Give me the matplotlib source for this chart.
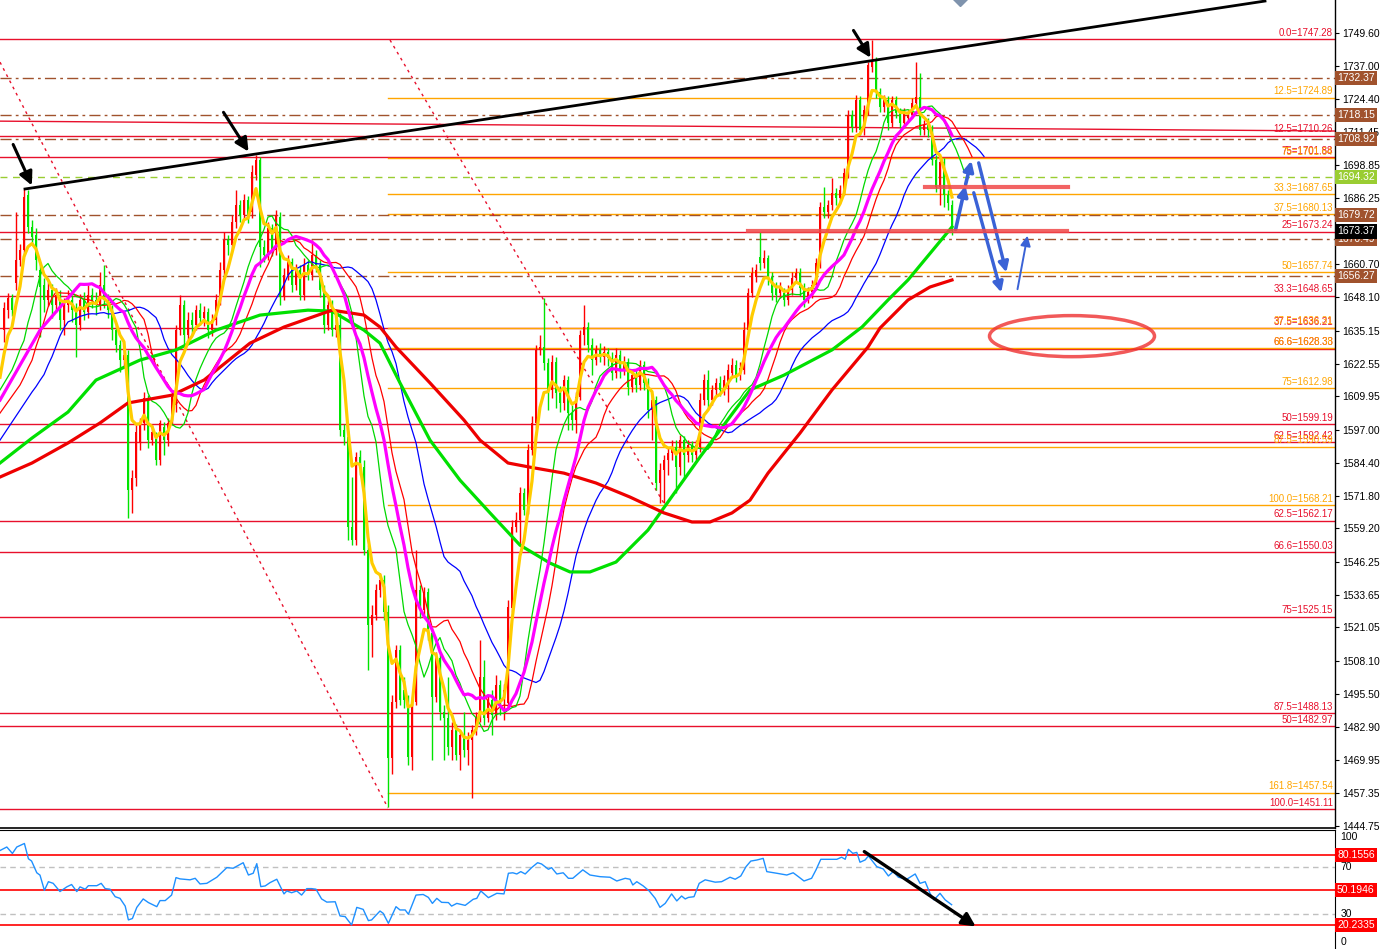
import matplotlib
matplotlib.use("Agg")
import matplotlib.pyplot as plt
from matplotlib.patches import Ellipse
from matplotlib.transforms import blended_transform_factory
import numpy as np
import pandas as pd

plt.rcParams['font.family'] = ['Liberation Sans', 'DejaVu Sans']

# ---- candles (one bar every 4 px in the original) ----
opens = [
    1635.4, 1643.1, 1647.8, 1653.5, 1662.4, 1666.2, 1687.4, 1675.1, 1672.0, 1658.5,
    1652.8, 1647.0, 1650.8, 1645.1, 1648.9, 1639.3, 1645.1, 1647.0, 1643.1, 1637.4,
    1647.0, 1642.4, 1648.9, 1647.0, 1645.1, 1652.8, 1647.0, 1643.1, 1635.4, 1629.7,
    1623.9, 1625.8, 1573.9, 1578.5, 1592.0, 1599.7, 1608.5, 1593.1, 1593.9, 1585.4,
    1598.1, 1593.1, 1600.8, 1606.6, 1635.4, 1645.1, 1633.5, 1639.3, 1637.4, 1643.1,
    1640.1, 1642.4, 1635.4, 1639.3, 1647.0, 1658.5, 1670.1, 1668.1, 1677.0, 1683.5,
    1679.7, 1685.5, 1680.8, 1695.1, 1700.8, 1667.4, 1664.3, 1674.7, 1666.2, 1678.9,
    1648.1, 1656.6, 1661.6, 1652.8, 1658.5, 1648.9, 1660.5, 1656.6, 1664.3, 1660.5,
    1650.8, 1637.4, 1645.1, 1635.4, 1637.4, 1597.0, 1594.3, 1559.7, 1554.7, 1586.6,
    1582.7, 1550.8, 1522.0, 1525.8, 1535.4, 1539.3, 1527.0, 1470.8, 1492.3, 1512.3,
    1497.0, 1493.1, 1471.2, 1492.3, 1535.4, 1527.7, 1534.7, 1518.9, 1494.3, 1509.3,
    1488.5, 1486.2, 1475.0, 1481.6, 1472.0, 1479.6, 1473.9, 1477.7, 1481.6, 1486.6,
    1502.0, 1486.2, 1493.1, 1487.3, 1498.9, 1493.1, 1492.0, 1528.5, 1559.7, 1562.4,
    1572.7, 1566.2, 1589.3, 1599.7, 1627.8, 1628.9, 1622.8, 1612.4, 1623.1, 1611.2,
    1607.4, 1616.2, 1603.5, 1600.8, 1609.7, 1633.5, 1636.6, 1629.7, 1623.9, 1627.8,
    1625.1, 1627.0, 1624.7, 1618.9, 1625.8, 1620.1, 1623.1, 1613.5, 1618.1, 1614.3,
    1622.0, 1615.1, 1604.7, 1608.5, 1576.6, 1581.6, 1585.4, 1588.1, 1590.4, 1582.7,
    1593.1, 1587.4, 1591.2, 1587.4, 1590.4, 1608.5, 1616.2, 1608.5, 1612.4, 1615.1,
    1612.4, 1615.1, 1618.9, 1622.0, 1618.1, 1620.1, 1635.4, 1649.7, 1655.8, 1663.5,
    1661.2, 1663.1, 1655.8, 1651.6, 1649.7, 1649.7, 1647.0, 1650.8, 1655.5, 1657.4,
    1651.6, 1647.0, 1650.1, 1652.8, 1661.2, 1682.8, 1680.8, 1683.5, 1688.2, 1686.2,
    1689.3, 1695.8, 1718.2, 1713.5, 1723.9, 1712.4, 1720.1, 1736.6, 1739.3, 1727.0,
    1721.2, 1723.9, 1715.1, 1723.9, 1718.9, 1715.1, 1717.0, 1718.2, 1722.8, 1725.1,
    1712.4, 1714.3, 1712.4, 1700.8, 1690.5, 1700.1, 1687.4, 1683.5]
closes = [
    1643.9, 1647.8, 1643.1, 1662.4, 1666.2, 1686.6, 1675.1, 1671.2, 1662.4, 1652.0,
    1647.0, 1650.8, 1645.1, 1648.9, 1639.3, 1645.1, 1647.0, 1643.1, 1637.4, 1647.0,
    1642.4, 1648.9, 1647.0, 1645.1, 1652.8, 1647.0, 1643.1, 1635.4, 1629.7, 1623.9,
    1625.8, 1573.9, 1578.5, 1596.2, 1599.7, 1609.3, 1593.1, 1596.2, 1585.4, 1599.7,
    1593.1, 1599.7, 1609.7, 1635.4, 1645.1, 1633.5, 1639.3, 1637.4, 1643.1, 1640.1,
    1642.4, 1635.4, 1639.3, 1647.0, 1658.5, 1670.1, 1668.1, 1677.0, 1683.5, 1679.7,
    1685.5, 1679.7, 1696.2, 1700.8, 1667.4, 1664.3, 1674.7, 1666.2, 1679.7, 1648.1,
    1656.6, 1661.6, 1652.8, 1658.5, 1648.9, 1660.5, 1656.6, 1664.3, 1660.5, 1650.8,
    1637.4, 1645.1, 1635.4, 1637.4, 1597.0, 1594.3, 1559.7, 1554.7, 1586.6, 1582.7,
    1550.8, 1522.0, 1525.8, 1535.4, 1539.3, 1527.0, 1470.8, 1492.3, 1512.3, 1493.1,
    1493.1, 1471.2, 1492.3, 1535.4, 1527.7, 1534.7, 1518.9, 1494.3, 1509.3, 1488.5,
    1486.2, 1475.0, 1481.6, 1472.0, 1479.6, 1473.9, 1477.7, 1481.6, 1486.6, 1502.0,
    1486.2, 1493.1, 1487.3, 1498.9, 1493.1, 1497.0, 1528.9, 1559.7, 1562.4, 1572.7,
    1566.2, 1589.3, 1599.7, 1627.8, 1628.9, 1622.8, 1612.4, 1623.1, 1611.2, 1607.4,
    1616.2, 1603.5, 1600.8, 1609.7, 1633.5, 1636.6, 1629.7, 1623.9, 1627.8, 1625.1,
    1627.0, 1624.7, 1618.9, 1625.8, 1620.1, 1623.1, 1613.5, 1618.1, 1614.3, 1622.0,
    1615.1, 1604.7, 1608.5, 1576.6, 1581.6, 1585.4, 1588.1, 1590.4, 1582.7, 1593.1,
    1587.4, 1591.2, 1587.4, 1591.2, 1608.5, 1616.2, 1608.5, 1612.4, 1615.1, 1612.4,
    1616.2, 1620.1, 1622.0, 1618.1, 1620.8, 1635.4, 1649.7, 1657.4, 1658.5, 1661.2,
    1663.1, 1655.8, 1649.7, 1648.9, 1652.0, 1647.0, 1650.8, 1655.5, 1657.4, 1651.6,
    1647.0, 1650.1, 1652.8, 1661.2, 1682.8, 1680.8, 1683.5, 1688.2, 1686.2, 1689.3,
    1695.8, 1718.2, 1713.5, 1723.9, 1712.4, 1720.1, 1737.4, 1739.3, 1727.0, 1721.2,
    1723.9, 1715.1, 1723.9, 1718.9, 1715.1, 1718.9, 1718.2, 1722.8, 1725.1, 1712.4,
    1714.3, 1712.4, 1700.8, 1690.5, 1700.1, 1687.4, 1684.3, 1673.5]
highs = [
    1646.2, 1649.7, 1649.3, 1680.8, 1668.5, 1689.7, 1689.3, 1677.8, 1674.7, 1661.6,
    1655.5, 1653.9, 1653.1, 1651.6, 1650.8, 1647.8, 1650.8, 1648.9, 1645.8, 1649.3,
    1650.1, 1652.8, 1651.6, 1650.1, 1657.8, 1660.5, 1649.3, 1645.1, 1637.4, 1631.6,
    1628.5, 1627.8, 1581.6, 1598.9, 1601.6, 1611.6, 1610.4, 1598.9, 1596.2, 1600.8,
    1600.1, 1601.6, 1612.4, 1637.4, 1648.9, 1647.0, 1642.4, 1642.4, 1645.1, 1645.8,
    1644.7, 1643.9, 1641.6, 1649.3, 1661.6, 1673.1, 1672.0, 1679.7, 1689.3, 1685.5,
    1687.8, 1687.0, 1698.9, 1702.8, 1702.0, 1670.1, 1677.0, 1676.2, 1681.6, 1680.8,
    1659.3, 1664.3, 1663.1, 1660.8, 1660.5, 1663.1, 1662.4, 1670.1, 1666.2, 1662.4,
    1652.8, 1647.0, 1647.0, 1640.1, 1642.0, 1599.3, 1597.0, 1578.9, 1588.5, 1589.3,
    1585.4, 1552.7, 1529.7, 1537.7, 1542.0, 1541.2, 1529.7, 1495.0, 1514.3, 1514.3,
    1502.0, 1495.0, 1494.3, 1550.8, 1537.3, 1536.6, 1536.2, 1520.8, 1511.6, 1511.2,
    1491.2, 1502.0, 1484.6, 1483.9, 1481.6, 1488.5, 1480.8, 1483.5, 1488.5, 1516.2,
    1508.5, 1495.0, 1497.0, 1502.7, 1500.8, 1499.3, 1531.6, 1562.4, 1565.4, 1575.1,
    1574.7, 1591.6, 1602.4, 1629.7, 1633.5, 1647.8, 1624.7, 1625.8, 1625.1, 1613.9,
    1618.1, 1617.8, 1606.6, 1611.6, 1635.4, 1645.1, 1638.5, 1632.4, 1629.7, 1630.4,
    1629.3, 1628.5, 1627.0, 1628.5, 1627.8, 1625.4, 1624.7, 1620.1, 1620.1, 1623.9,
    1623.5, 1617.0, 1610.4, 1610.1, 1584.3, 1587.4, 1590.1, 1593.1, 1593.1, 1595.1,
    1594.7, 1593.1, 1592.7, 1593.1, 1611.2, 1618.5, 1620.1, 1614.3, 1617.0, 1617.8,
    1618.1, 1622.4, 1624.7, 1623.9, 1623.1, 1638.5, 1651.6, 1659.7, 1660.8, 1673.1,
    1666.2, 1664.3, 1657.8, 1653.9, 1653.9, 1651.6, 1652.8, 1657.8, 1659.3, 1659.3,
    1653.5, 1652.0, 1654.7, 1663.1, 1684.7, 1690.5, 1685.5, 1693.9, 1690.1, 1691.2,
    1697.8, 1720.1, 1720.1, 1725.9, 1725.5, 1722.0, 1738.5, 1747.0, 1740.5, 1728.5,
    1725.9, 1725.5, 1725.5, 1725.5, 1720.9, 1720.9, 1720.1, 1724.7, 1738.5, 1734.3,
    1716.2, 1717.0, 1714.3, 1702.8, 1701.6, 1701.6, 1689.3, 1685.5]
lows = [
    1630.8, 1640.1, 1640.8, 1650.8, 1660.1, 1663.9, 1672.8, 1668.1, 1658.5, 1632.8,
    1642.4, 1644.7, 1640.1, 1642.4, 1635.4, 1633.5, 1642.4, 1638.5, 1625.1, 1635.4,
    1639.3, 1640.1, 1643.9, 1641.2, 1643.1, 1643.9, 1640.1, 1631.6, 1627.0, 1619.3,
    1621.6, 1563.1, 1565.1, 1575.4, 1589.3, 1597.0, 1590.1, 1591.2, 1583.5, 1583.5,
    1587.4, 1590.8, 1598.9, 1603.9, 1633.5, 1629.7, 1631.6, 1633.5, 1635.4, 1637.4,
    1637.0, 1632.4, 1633.1, 1637.4, 1645.1, 1656.2, 1664.3, 1666.2, 1674.7, 1677.0,
    1677.8, 1676.6, 1678.5, 1693.2, 1659.7, 1661.6, 1662.4, 1663.9, 1664.3, 1645.1,
    1647.0, 1654.7, 1650.1, 1650.8, 1647.0, 1647.0, 1654.7, 1654.7, 1657.8, 1648.1,
    1634.3, 1635.4, 1633.1, 1632.8, 1594.7, 1591.2, 1554.7, 1552.7, 1552.7, 1579.7,
    1548.9, 1504.7, 1509.7, 1523.9, 1532.7, 1523.9, 1452.0, 1464.6, 1490.0, 1491.2,
    1490.0, 1468.1, 1466.2, 1491.2, 1524.7, 1525.8, 1516.2, 1470.0, 1492.3, 1485.4,
    1470.0, 1472.0, 1470.0, 1470.0, 1466.2, 1471.2, 1468.1, 1455.4, 1479.6, 1484.6,
    1483.5, 1484.6, 1479.6, 1485.4, 1487.3, 1485.4, 1490.0, 1527.0, 1557.7, 1552.7,
    1564.3, 1564.7, 1587.4, 1597.8, 1625.8, 1620.1, 1604.7, 1609.3, 1605.4, 1603.9,
    1604.7, 1597.0, 1597.0, 1595.8, 1608.5, 1629.7, 1627.0, 1618.1, 1622.0, 1623.1,
    1622.0, 1621.6, 1616.2, 1617.0, 1617.0, 1618.1, 1610.4, 1611.6, 1611.6, 1612.4,
    1612.4, 1601.6, 1593.1, 1573.9, 1568.9, 1568.9, 1579.7, 1585.4, 1572.7, 1579.7,
    1578.5, 1584.7, 1584.7, 1585.4, 1588.5, 1606.6, 1605.4, 1606.6, 1610.4, 1610.1,
    1610.4, 1607.8, 1617.0, 1615.4, 1616.2, 1618.5, 1633.5, 1648.1, 1653.9, 1658.5,
    1659.3, 1652.8, 1647.0, 1646.2, 1647.8, 1644.7, 1645.1, 1648.9, 1653.9, 1648.5,
    1644.3, 1645.8, 1647.8, 1650.8, 1659.3, 1678.5, 1678.5, 1681.6, 1683.5, 1684.3,
    1687.4, 1693.9, 1711.6, 1711.6, 1710.5, 1710.5, 1718.2, 1734.7, 1724.7, 1719.3,
    1719.3, 1712.4, 1713.5, 1717.0, 1713.2, 1713.2, 1715.5, 1717.0, 1722.0, 1710.5,
    1710.5, 1709.7, 1698.9, 1688.5, 1683.5, 1682.8, 1681.6, 1672.0]

# slow moving averages (bar position, price)
ma_red_bars = [-1, 7, 16, 24, 31, 42, 50, 61.5, 70, 82, 90, 94, 98, 106.5, 115, 119, 123, 126,
               131.5, 140, 148, 156.5, 165, 172, 176.5, 182, 186.5, 191, 199, 207, 216, 219,
               226, 231.5, 237]
ma_red_vals = [1578.9, 1584.3, 1592.0, 1599.7, 1607.4, 1610.4, 1616.2, 1630.4, 1636.6, 1643.1,
               1641.2, 1636.6, 1628.9, 1615.1, 1600.8, 1593.1, 1588.1, 1584.3, 1582.7, 1580.4,
               1576.6, 1571.2, 1565.1, 1561.6, 1561.6, 1565.1, 1570.0, 1580.4, 1595.8, 1612.4,
               1628.9, 1636.2, 1647.0, 1652.0, 1654.7]
ma_green_bars = [-1, 7, 16, 23, 34, 43, 53, 64, 76, 82, 90, 94, 99, 106.5, 114, 121.5, 129,
                 136.5, 141.5, 146.5, 153, 161, 174, 186.5, 195, 207, 214.5, 221, 226, 237]
ma_green_vals = [1584.3, 1593.9, 1603.9, 1616.2, 1623.9, 1627.8, 1635.4, 1641.2, 1643.1, 1642.7,
                 1635.4, 1630.4, 1615.1, 1593.1, 1577.7, 1565.1, 1552.7, 1545.8, 1542.4, 1542.4,
                 1546.2, 1558.5, 1586.6, 1612.4, 1618.1, 1627.8, 1636.6, 1647.0, 1654.7, 1675.1]

# start values of the fast lines at the left edge
yellow_start = 1617.3
magenta_start = [1608.5, 1635.4]   # at bar -1 and bar 9
jaw_start = [1593.1, 1611.6]       # blue
teeth_start = [1603.5, 1614.3]     # thin red
lips_start = [1612.4, 1620.1]      # thin green

# RSI panel
rsi_bars = [-1, 0.7, 2.1, 3.2, 5.1, 6.1, 6.9, 8.2, 9, 10.1,
            11.1, 12.3, 14, 15.7, 16.9, 18.2, 19, 20.3, 21.1, 23.2,
            24.3, 25.3, 26.5, 27.8, 29, 30.3, 31.1, 32.1, 33.2, 34.8,
            36.1, 38.2, 39, 40.3, 41.9, 43, 44, 46.5, 47.8, 49,
            50.7, 53.2, 55.7, 57.3, 59.8, 61.1, 62.3, 63.2, 64.2, 65.3,
            66.5, 68.2, 70, 70.7, 71.9, 73.2, 74.4, 75.7, 76.9, 78,
            79.4, 80.7, 82.8, 84, 85.3, 86.9, 88.2, 89.8, 91.1, 91.9,
            94, 94.8, 96.1, 98, 99, 100.3, 101.1, 103, 104.8, 106.1,
            107.1, 108.2, 109.4, 111.1, 111.9, 113.2, 115.3, 117.3, 118.2, 119.2,
            121.1, 123.2, 125, 126.1, 127.2, 128.2, 129.2, 130.3, 131.9, 133.4,
            134.4, 136.1, 136.9, 138.2, 139.8, 141.1, 142.2, 144.7, 146.5, 149,
            151.5, 153.2, 155.3, 156.5, 157.2, 158.2, 159.8, 161.3, 162.8, 164,
            165.3, 166.9, 168.2, 169.4, 170.3, 171.1, 172.5, 173.8, 175.3, 177.8,
            179.4, 181.5, 182.8, 184.2, 185.5, 186.7, 188.2, 189.8, 190.7, 193.2,
            195.7, 197.3, 198.6, 200, 201.9, 203, 204.2, 208.2, 209.4, 210.3,
            211.1, 212.2, 213.2, 214, 215.3, 216.1, 218.2, 219.8, 221.1, 222.3,
            223.6, 225.7, 227.8, 229, 230.3, 231.5, 232.5, 234, 235.3, 236.9]
rsi_vals = [84, 87, 81.5, 87, 90, 77, 75, 65, 63, 50,
            57.4, 56, 49, 53, 55, 49, 53, 51, 54, 54,
            56, 51.5, 51, 44.6, 43.2, 36.6, 24.8, 26, 35.5, 42.7,
            39.6, 36.1, 41.3, 41.3, 46, 60.9, 59.8, 59, 60.3, 55.5,
            56, 61.2, 69.4, 68.9, 73.6, 63.1, 64.6, 72.8, 53.2, 53.8,
            56.6, 59.5, 47, 49.5, 48, 49.5, 46, 51.5, 51.5, 51,
            42.7, 40, 40.3, 28.2, 27.6, 20.5, 35.5, 33.8, 24.2, 24.8,
            32.4, 30.4, 21.9, 36.1, 33.3, 33.3, 29.6, 46, 46.5, 44,
            38.9, 43.2, 39.8, 39.6, 36.6, 38.9, 37.2, 42.4, 43.2, 49.5,
            43.8, 47.5, 47, 64.6, 65, 64, 66, 64, 69.4, 73.6,
            72.5, 68, 69.4, 64, 65, 60.3, 60.3, 67.5, 63.1, 61.7,
            61.2, 58, 60.3, 59.5, 54.6, 57.4, 53.8, 49.5, 43.2, 35.5,
            38.9, 47, 41, 45.2, 42.7, 44, 44.6, 56, 59, 57,
            57.4, 61.2, 59.5, 62.3, 70.2, 75, 75.9, 77.3, 66, 64.6,
            63.1, 65, 61.7, 58, 60.3, 67.5, 76.5, 76.5, 78.3, 76.5,
            85, 81.6, 82.4, 74, 76, 79.4, 70.2, 68.3, 62.3, 66,
            61.2, 59.5, 64, 56, 57.4, 47.5, 41.9, 47.5, 41.9, 37.8]
rsi_levels = [80.1556, 50.1946, 20.2335]

# fibonacci / level lines
fib_red = [(1747.28, "0.0=1747.28"), (1710.26, "12.5=1710.26"), (1701.88, "75=1701.88"),
           (1673.24, "25=1673.24"), (1648.65, "33.3=1648.65"), (1636.21, "37.5=1636.21"),
           (1628.33, "66.6=1628.33"), (1599.19, "50=1599.19"), (1592.42, "62.5=1592.42"),
           (1562.17, "62.5=1562.17"), (1550.03, "66.6=1550.03"), (1525.15, "75=1525.15"),
           (1488.13, "87.5=1488.13"), (1482.97, "50=1482.97"), (1451.11, "100.0=1451.11")]
fib_orange = [(1724.89, "12.5=1724.89"), (1701.64, "75=1701.64"), (1687.65, "33.3=1687.65"),
              (1680.13, "37.5=1680.13"), (1657.74, "50=1657.74"), (1636.31, "37.5=1636.31"),
              (1628.38, "66.6=1628.38"), (1612.98, "75=1612.98"), (1590.59, "87.5=1590.59"),
              (1568.21, "100.0=1568.21"), (1457.54, "161.8=1457.54")]
fib_orange_start = 96
brown_levels = [1732.37, 1718.15, 1708.92, 1679.72, 1670.49, 1656.27]
green_level = 1694.32
last_price = 1673.37

price_ticks = [1749.60, 1737.00, 1724.40, 1711.45, 1698.85, 1686.25, 1660.70, 1648.10,
               1635.15, 1622.55, 1609.95, 1597.00, 1584.40, 1571.80, 1559.20, 1546.25,
               1533.65, 1521.05, 1508.10, 1495.50, 1482.90, 1469.95, 1457.35, 1444.75]

# drawn objects (bar, price)
trend_line = [(5.25, 1689.7), (315.25, 1762.0)]
slope_red = [(-1, 1715.8), (332.75, 1712.0)]
dotted_1 = [(-1, 1738.5), (96, 1451.6)]
dotted_2 = [(96.5, 1747.0), (165.25, 1568.1)]
zones = [(230.25, 266.0, 1690.6), (186.0, 265.75, 1673.6)]
black_arrows = [((2, 1707.8), (7.25, 1690.1)), ((54.5, 1720.1), (61.5, 1703.2)),
                ((212, 1751.6), (217, 1739.3))]
blue_arrows = [((237.75, 1673.1), (240.5, 1692.0), 2.6), ((240.25, 1690.5), (242, 1701.6), 2.6),
               ((242.25, 1689.3), (249.5, 1648.9), 2.4), ((243.5, 1700.8), (250.75, 1656.6), 2.4),
               ((253.25, 1650.1), (256, 1672.8), 1.4)]
ellipse_c = (267, 1633.1)
ellipse_wh = (41.25, 15.8)

RED = "#e8102c"
ORANGE = "#ffa500"
BROWN = "#a0522d"

o = np.array(opens); c = np.array(closes); h = np.array(highs); l = np.array(lows)
n = len(c)
bars = np.arange(n)

fig = plt.figure(figsize=(13.83, 9.49), dpi=100)
ax = fig.add_axes([0, 121 / 949, 1335 / 1383, 828 / 949])
ax2 = fig.add_axes([0, 0, 1335 / 1383, 119 / 949])

xlim = (-1, 332.75)
ax.set_xlim(*xlim)
ax.set_ylim(1443.9, 1762.4)
tr = blended_transform_factory(ax.transAxes, ax.transData)

# level lines
for p, lab in fib_red:
    ax.plot(xlim, [p, p], color=RED, lw=1, zorder=1)
    ax.text(0.9985, p + 0.5, lab, transform=tr, ha="right", va="bottom", fontsize=7, color=RED)
for p, lab in fib_orange:
    ax.plot([fib_orange_start, xlim[1]], [p, p], color=ORANGE, lw=1, zorder=1)
    ax.text(0.9985, p + 0.5, lab, transform=tr, ha="right", va="bottom", fontsize=7, color=ORANGE)
for p in brown_levels:
    ax.plot(xlim, [p, p], color=BROWN, lw=1, ls=(0, (8, 3, 2, 3)), zorder=1)
ax.plot(xlim, [green_level] * 2, color="#9acd32", lw=1, ls=(0, (5, 4)), zorder=1)
ax.plot(*zip(*slope_red), color=RED, lw=1, zorder=1)

# candles
up = c >= o
col = np.where(up, "#ff0000", "#00e400")
ax.vlines(bars, l, h, colors=col, lw=1, zorder=2)
body = np.maximum(np.abs(c - o), 0.4)
ax.bar(bars, body, bottom=np.minimum(o, c), width=0.62, color=col, lw=0, zorder=2)

# moving averages
med = (h + l) / 2


def smma(vals, period, seed):
    return pd.Series(np.r_[seed, vals]).ewm(alpha=1 / period, adjust=False).mean().values


for start, period, shift, colr in [(jaw_start, 13, 8, "#0000ff"), (teeth_start, 8, 5, "#ff0000"),
                                   (lips_start, 5, 3, "#00d800")]:
    ys = smma(med, period, start[1])
    xs = np.arange(-1, n) + shift
    ax.plot(np.r_[-1, xs], np.r_[start[0], ys], color=colr, lw=0.9, zorder=3)

ax.plot(ma_green_bars, ma_green_vals, color="#00e000", lw=2.3, zorder=3)
ax.plot(ma_red_bars, ma_red_vals, color="#ee0000", lw=2.3, zorder=3)
sma20 = pd.Series(c).rolling(20).mean().values
ax.plot(np.r_[-1, 9, bars[19:]], np.r_[magenta_start, sma20[19:]], color="#ff00ff", lw=2.3, zorder=3)
ema5 = pd.Series(np.r_[yellow_start, c]).ewm(span=5, adjust=False).mean().values
ax.plot(np.arange(-1, n), ema5, color="#ffcc00", lw=2.3, zorder=3)

# drawings
ax.plot(*zip(*trend_line), color="black", lw=2, zorder=4)
ax.plot(*zip(*dotted_1), color=RED, lw=1, ls=(0, (2, 3)), zorder=1)
ax.plot(*zip(*dotted_2), color=RED, lw=1, ls=(0, (2, 3)), zorder=1)
for x0, x1, p in zones:
    ax.plot([x0, x1], [p, p], color="#f04848", lw=3, alpha=0.85, zorder=4)
for tail, head in black_arrows:
    ax.annotate("", xy=head, xytext=tail,
                arrowprops=dict(arrowstyle="-|>", color="black", lw=2.2, mutation_scale=20))
for tail, head, w in blue_arrows:
    ax.annotate("", xy=head, xytext=tail,
                arrowprops=dict(arrowstyle="-|>", color="#3a62d6", lw=w, mutation_scale=15))
ax.add_patch(Ellipse(ellipse_c, ellipse_wh[0], ellipse_wh[1], fill=False, ec="#ee3030",
                     lw=2.5, alpha=0.8, zorder=4))
ax.plot(239, 1763.6, marker="D", color="#7f93ad", ms=9, zorder=5)

# right price scale
ax.yaxis.tick_right()
ax.set_yticks(price_ticks)
ax.set_yticklabels([f"{t:.2f}" for t in price_ticks])
ax.tick_params(axis="y", direction="out", length=3, pad=2, labelsize=7.5)
ax.set_xticks([])
for s in ["top", "left"]:
    ax.spines[s].set_visible(False)
ax.spines["right"].set_linewidth(1)
ax.spines["bottom"].set_linewidth(1.2)

box_kw = dict(transform=tr, color="white", fontsize=7.5, va="center", ha="left", zorder=6,
              clip_on=False)
for p in brown_levels:
    ax.text(1.0015, p, f"{p:.2f}", bbox=dict(boxstyle="square,pad=0.2", fc=BROWN, ec="none"), **box_kw)
ax.text(1.0015, green_level, f"{green_level:.2f}",
        bbox=dict(boxstyle="square,pad=0.2", fc="#9acd32", ec="none"), **box_kw)
ax.text(1.0015, last_price, f"{last_price:.2f}",
        bbox=dict(boxstyle="square,pad=0.2", fc="black", ec="none"), **box_kw)

# RSI panel
ax2.set_xlim(*xlim)
ax2.set_ylim(0, 101.5)
for lv in rsi_levels:
    ax2.axhline(lv, color="#ff0000", lw=1.2)
for lv in [70, 30]:
    ax2.axhline(lv, color="#c0c0c0", lw=1, ls=(0, (4, 3)))
ax2.plot(rsi_bars, rsi_vals, color="#1e90ff", lw=1)
ax2.annotate("", xy=(243.5, 17.9), xytext=(214.5, 84.4),
             arrowprops=dict(arrowstyle="-|>", color="black", lw=2.4, mutation_scale=20))
ax2.set_xticks([])
ax2.set_yticks([])
for s in ["left", "bottom"]:
    ax2.spines[s].set_visible(False)
tr2 = blended_transform_factory(ax2.transAxes, ax2.transData)
for lab, yv in [("100", 95.5), ("70", 70), ("30", 30), ("0", 6)]:
    ax2.text(1.004, yv, lab, transform=tr2, fontsize=7.5, va="center", ha="left", clip_on=False)
for lv in rsi_levels:
    ax2.text(1.0015, lv, f"{lv:.4f}", transform=tr2, color="white", fontsize=7.5, va="center",
             ha="left", bbox=dict(boxstyle="square,pad=0.2", fc="#ff0000", ec="none"), clip_on=False)

fig.savefig("out.png", dpi=100)
